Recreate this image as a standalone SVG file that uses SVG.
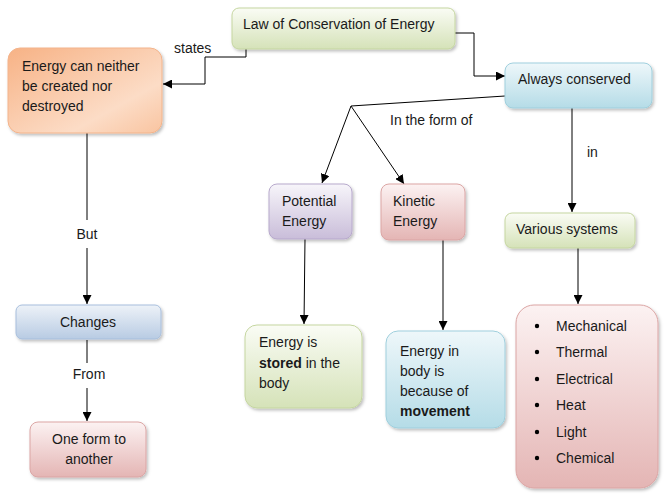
<svg xmlns="http://www.w3.org/2000/svg" width="666" height="494" viewBox="0 0 666 494">
<defs>
<linearGradient id="gGreen" x1="0" y1="0" x2="0" y2="1"><stop offset="0" stop-color="#fafcf5"/><stop offset="1" stop-color="#d5e2b8"/></linearGradient>
<linearGradient id="gOrange" x1="0" y1="0" x2="1" y2="1"><stop offset="0" stop-color="#f7b285"/><stop offset="0.7" stop-color="#fcdcc6"/><stop offset="1" stop-color="#f9c4a0"/></linearGradient>
<linearGradient id="gBlue" x1="0" y1="0" x2="0" y2="1"><stop offset="0" stop-color="#eef7fa"/><stop offset="1" stop-color="#b5dce7"/></linearGradient>
<linearGradient id="gPurple" x1="0" y1="0" x2="0" y2="1"><stop offset="0" stop-color="#f7f5fa"/><stop offset="1" stop-color="#c9bdd9"/></linearGradient>
<linearGradient id="gPink" x1="0" y1="0" x2="0" y2="1"><stop offset="0" stop-color="#fcf2f2"/><stop offset="1" stop-color="#e4b5b4"/></linearGradient>
<linearGradient id="gSteel" x1="0" y1="0" x2="0" y2="1"><stop offset="0" stop-color="#edf2f8"/><stop offset="1" stop-color="#b8cbe3"/></linearGradient>
<filter id="sh" x="-10%" y="-10%" width="130%" height="130%"><feDropShadow dx="1.5" dy="2" stdDeviation="1.5" flood-color="#000" flood-opacity="0.25"/></filter>
<marker id="arr" viewBox="0 0 10 10" refX="10" refY="5" markerWidth="9" markerHeight="9" markerUnits="userSpaceOnUse" orient="auto"><path d="M0,0 L10,5 L0,10 z" fill="#000"/></marker>
</defs>
<style>
text{font-family:"Liberation Sans",Arial,sans-serif;font-size:14px;fill:#1a1a1a}
.b{font-weight:bold}
.c{text-anchor:middle}
.n{filter:url(#sh)}
.e{fill:none;stroke:#000;stroke-width:1}
.ea{fill:none;stroke:#000;stroke-width:1;marker-end:url(#arr)}
</style>
<rect width="666" height="494" fill="#fff"/>
<g id="connectors">
<polyline class="ea" points="246,49 246,57 205,57 205,84 163,84"/>
<polyline class="ea" points="455,33 474,33 474,76 505,76"/>
<polyline class="e" points="505,96 351,106"/>
<polyline class="ea" points="351,106 322,183"/>
<polyline class="ea" points="351,106 404,184"/>
<polyline class="ea" points="572,108 572,212"/>
<polyline class="ea" points="578,248 578,304"/>
<polyline class="ea" points="305,239 304,324"/>
<polyline class="ea" points="443,240 443,330"/>
<polyline class="e" points="87,133 87,220"/>
<polyline class="ea" points="87,248 87,304"/>
<polyline class="e" points="87,340 87,363"/>
<polyline class="ea" points="87,388 87,421"/>
<text x="174" y="53">states</text>
<text x="390" y="125">In the form of</text>
<text x="587" y="157">in</text>
<text x="87" y="239" class="c">But</text>
<text x="89" y="379" class="c">From</text>
</g>
<g id="law"><rect class="n" x="232" y="8" width="223" height="41" rx="7" fill="url(#gGreen)" stroke="#c5d6a0"/><text x="243" y="29">Law of Conservation of Energy</text></g>
<g id="neither"><rect class="n" x="8" y="48" width="154" height="85" rx="12" fill="url(#gOrange)" stroke="#f3b48c"/><text x="22" y="71">Energy can neither</text><text x="22" y="91">be created nor</text><text x="22" y="111">destroyed</text></g>
<g id="conserved"><rect class="n" x="505" y="63" width="147" height="45" rx="8" fill="url(#gBlue)" stroke="#9fcfdd"/><text x="518" y="84">Always conserved</text></g>
<g id="potential"><rect class="n" x="269" y="184" width="83" height="55" rx="8" fill="url(#gPurple)" stroke="#b7a9cc"/><text x="282" y="206">Potential</text><text x="282" y="226">Energy</text></g>
<g id="kinetic"><rect class="n" x="381" y="184" width="84" height="56" rx="8" fill="url(#gPink)" stroke="#dba5a4"/><text x="393" y="206">Kinetic</text><text x="393" y="226">Energy</text></g>
<g id="various"><rect class="n" x="505" y="213" width="130" height="35" rx="7" fill="url(#gGreen)" stroke="#c5d6a0"/><text x="516" y="234">Various systems</text></g>
<g id="list"><rect class="n" x="516" y="305" width="142" height="183" rx="18" fill="url(#gPink)" stroke="#dba5a4"/>
<g><circle cx="537" cy="326" r="2.2" fill="#000"/><text x="556" y="331">Mechanical</text>
<circle cx="537" cy="352" r="2.2" fill="#000"/><text x="556" y="357">Thermal</text>
<circle cx="537" cy="379" r="2.2" fill="#000"/><text x="556" y="384">Electrical</text>
<circle cx="537" cy="405" r="2.2" fill="#000"/><text x="556" y="410">Heat</text>
<circle cx="537" cy="432" r="2.2" fill="#000"/><text x="556" y="437">Light</text>
<circle cx="537" cy="458" r="2.2" fill="#000"/><text x="556" y="463">Chemical</text></g></g>
<g id="stored"><rect class="n" x="245" y="325" width="117" height="83" rx="12" fill="url(#gGreen)" stroke="#c5d6a0"/><text x="259" y="347">Energy is</text><text x="259" y="368"><tspan class="b">stored</tspan> in the</text><text x="259" y="388">body</text></g>
<g id="movement"><rect class="n" x="386" y="331" width="119" height="97" rx="12" fill="url(#gBlue)" stroke="#9fcfdd"/><text x="400" y="356">Energy in</text><text x="400" y="376">body is</text><text x="400" y="396">because of</text><text x="400" y="416" class="b">movement</text></g>
<g id="changes"><rect class="n" x="16" y="305" width="145" height="34" rx="6" fill="url(#gSteel)" stroke="#a7bedc"/><text x="88" y="327" class="c">Changes</text></g>
<g id="oneform"><rect class="n" x="30" y="422" width="116" height="55" rx="8" fill="url(#gPink)" stroke="#dba5a4"/><text x="89" y="444" class="c">One form to</text><text x="89" y="464" class="c">another</text></g>
</svg>
